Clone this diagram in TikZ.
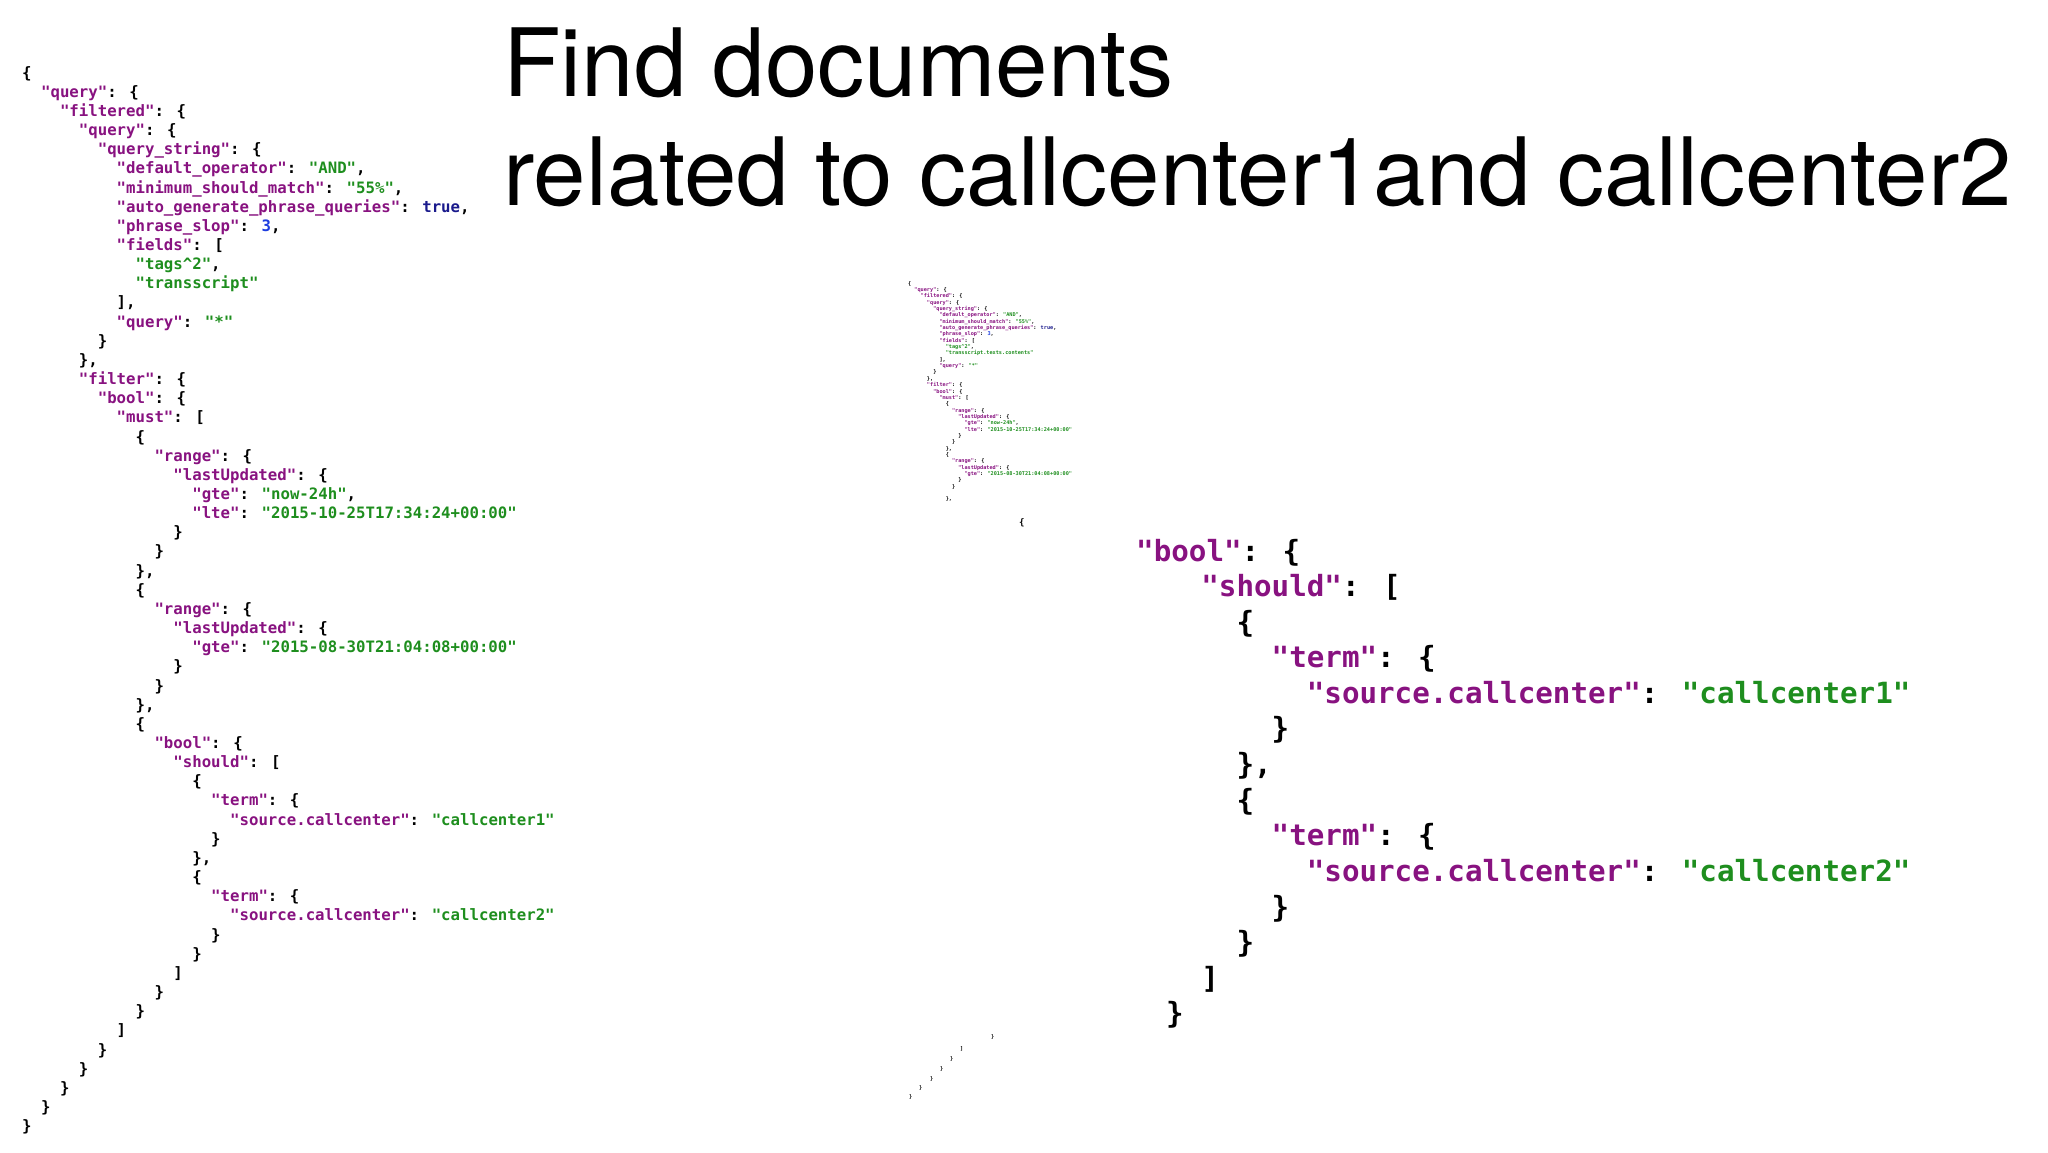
\documentclass[tikz,border=0pt]{standalone}
\usepackage{fontspec}
\setmainfont{TeX Gyre Heros}
\newfontfamily\codefont{DejaVu Sans Mono}
\definecolor{keypurple}{HTML}{881280}
\definecolor{strgreen}{HTML}{1E8E1E}
\definecolor{truenavy}{HTML}{1A1A8C}
\definecolor{numblue}{HTML}{1C3CDF}
\newcommand\sk[1]{\hspace*{#1\fontcharwd\font`0}}
\newcommand\K[1]{\textcolor{keypurple}{"#1"}}
\newcommand\V[1]{\textcolor{strgreen}{"#1"}}
\tikzset{
  code/.style={anchor=north west, inner sep=0pt, align=left,
    font=\codefont\bfseries\fontsize{#1}{#1}\selectfont\setlength\baselineskip{1.22\baselineskip}},
  code/.default=15.7,
  title/.style={anchor=base west, inner sep=0pt, font=\fontsize{94.3}{100}\selectfont}
}
\begin{document}
\begin{tikzpicture}[x=1pt, y=-1pt]
\useasboundingbox (0,0) rectangle (2048,1152);
%Title
\node[title] (t1) at (503,96) {Find documents};
\node[title] (t2) at (503,205) {related to callcenter1and callcenter2};
%Full query
\node[code] (full) at (22,66) {%
\{\\
\sk2\K{query}: \{\\
\sk4\K{filtered}: \{\\
\sk6\K{query}: \{\\
\sk8\K{query\_string}: \{\\
\sk{10}\K{default\_operator}: \V{AND},\\
\sk{10}\K{minimum\_should\_match}: \V{55\%},\\
\sk{10}\K{auto\_generate\_phrase\_queries}: \textcolor{truenavy}{true},\\
\sk{10}\K{phrase\_slop}: \textcolor{numblue}{3},\\
\sk{10}\K{fields}: [\\
\sk{12}\V{tags\textasciicircum2},\\
\sk{12}\V{transscript}\\
\sk{10}],\\
\sk{10}\K{query}: \V{*}\\
\sk8\}\\
\sk6\},\\
\sk6\K{filter}: \{\\
\sk8\K{bool}: \{\\
\sk{10}\K{must}: [\\
\sk{12}\{\\
\sk{14}\K{range}: \{\\
\sk{16}\K{lastUpdated}: \{\\
\sk{18}\K{gte}: \V{now-24h},\\
\sk{18}\K{lte}: \V{2015-10-25T17:34:24+00:00}\\
\sk{16}\}\\
\sk{14}\}\\
\sk{12}\},\\
\sk{12}\{\\
\sk{14}\K{range}: \{\\
\sk{16}\K{lastUpdated}: \{\\
\sk{18}\K{gte}: \V{2015-08-30T21:04:08+00:00}\\
\sk{16}\}\\
\sk{14}\}\\
\sk{12}\},\\
\sk{12}\{\\
\sk{14}\K{bool}: \{\\
\sk{16}\K{should}: [\\
\sk{18}\{\\
\sk{20}\K{term}: \{\\
\sk{22}\K{source.callcenter}: \V{callcenter1}\\
\sk{20}\}\\
\sk{18}\},\\
\sk{18}\{\\
\sk{20}\K{term}: \{\\
\sk{22}\K{source.callcenter}: \V{callcenter2}\\
\sk{20}\}\\
\sk{18}\}\\
\sk{16}]\\
\sk{14}\}\\
\sk{12}\}\\
\sk{10}]\\
\sk8\}\\
\sk6\}\\
\sk4\}\\
\sk2\}\\
\}};
%Shrunk query
\node[code=5.2] (small) at (908,281) {%
\{\\
\sk2\K{query}: \{\\
\sk4\K{filtered}: \{\\
\sk6\K{query}: \{\\
\sk8\K{query\_string}: \{\\
\sk{10}\K{default\_operator}: \V{AND},\\
\sk{10}\K{minimum\_should\_match}: \V{55\%},\\
\sk{10}\K{auto\_generate\_phrase\_queries}: \textcolor{truenavy}{true},\\
\sk{10}\K{phrase\_slop}: \textcolor{numblue}{3},\\
\sk{10}\K{fields}: [\\
\sk{12}\V{tags\textasciicircum2},\\
\sk{12}\V{transscript.texts.contents}\\
\sk{10}],\\
\sk{10}\K{query}: \V{*}\\
\sk8\}\\
\sk6\},\\
\sk6\K{filter}: \{\\
\sk8\K{bool}: \{\\
\sk{10}\K{must}: [\\
\sk{12}\{\\
\sk{14}\K{range}: \{\\
\sk{16}\K{lastUpdated}: \{\\
\sk{18}\K{gte}: \V{now-24h},\\
\sk{18}\K{lte}: \V{2015-10-25T17:34:24+00:00}\\
\sk{16}\}\\
\sk{14}\}\\
\sk{12}\},\\
\sk{12}\{\\
\sk{14}\K{range}: \{\\
\sk{16}\K{lastUpdated}: \{\\
\sk{18}\K{gte}: \V{2015-08-30T21:04:08+00:00}\\
\sk{16}\}\\
\sk{14}\}\\
\mbox{}\\
\sk{12}\},};
\node[code=9] (brace) at (1019,518) {\{};
%Closing braces
\node[code=5.2] (c1) at (991,1034) {\}};
\node[code=5.2] (c2) at (960,1046) {]};
\node[code=5.2] (c3) at (950,1056) {\}};
\node[code=5.2] (c4) at (940,1066) {\}};
\node[code=5.2] (c5) at (930,1076) {\}};
\node[code=5.2] (c6) at (919,1085) {\}};
\node[code=5.2] (c7) at (909,1094) {\}};
%Zoomed bool
\node[code=29.2] (zb) at (1136,539) {\K{bool}: \{};
\node[code=29.2] (zs) at (1166,574) {%
\sk2\K{should}: [\\
\sk4\{\\
\sk6\K{term}: \{\\
\sk8\K{source.callcenter}: \V{callcenter1}\\
\sk6\}\\
\sk4\},\\
\sk4\{\\
\sk6\K{term}: \{\\
\sk8\K{source.callcenter}: \V{callcenter2}\\
\sk6\}\\
\sk4\}\\
\sk2]\\
\}};
\end{tikzpicture}
\end{document}
